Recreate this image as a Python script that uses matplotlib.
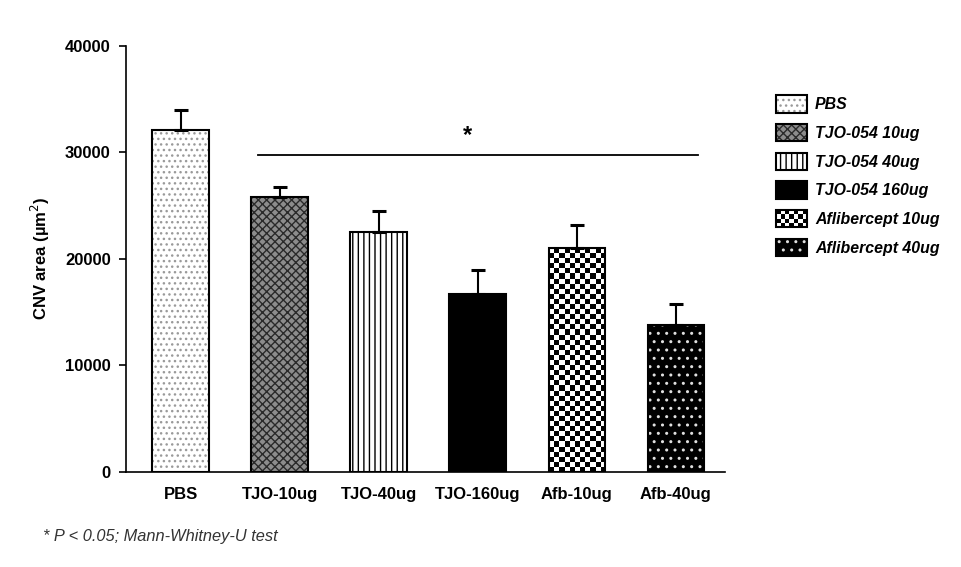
import numpy as np
import matplotlib
matplotlib.use("Agg")
import matplotlib.pyplot as plt
from matplotlib.patches import Patch, Rectangle
from matplotlib.legend_handler import HandlerBase, HandlerTuple

plt.rcParams["font.family"] = ["Liberation Sans", "DejaVu Sans"]

groups = ["PBS", "TJO-10ug", "TJO-40ug", "TJO-160ug", "Afb-10ug", "Afb-40ug"]
legend_names = ["PBS", "TJO-054 10ug", "TJO-054 40ug", "TJO-054 160ug",
                "Aflibercept 10ug", "Aflibercept 40ug"]
means = [32100, 25800, 22550, 16700, 21000, 13750]
sem = [1900, 950, 1950, 2250, 2200, 2050]
sig_span = (1, 5)  # TJO-10ug .. Afb-40ug
sig_level = 29770

# pattern per bar: (facecolor, hatch, hatchcolor)
styles = [
    ("white", "...", "#9a9a9a"),
    ("#8c8c8c", "xxxx", "#2a2a2a"),
    ("white", "|||", "black"),
    ("black", None, None),
    ("checker", None, None),
    ("black", "..", "#e0e0e0"),
]


class CheckerHandler(HandlerBase):
    def create_artists(self, legend, orig_handle, xdescent, ydescent, width, height,
                       fontsize, trans):
        arts = [Rectangle((-xdescent, -ydescent), width, height, facecolor="white",
                          edgecolor="none", transform=trans)]
        nc, nr = 7, 4
        cw, ch = width / nc, height / nr
        for i in range(nr):
            for j in range(nc):
                if (i + j) % 2:
                    arts.append(Rectangle((-xdescent + j * cw, -ydescent + i * ch), cw, ch,
                                          facecolor="black", edgecolor="none",
                                          transform=trans))
        arts.append(Rectangle((-xdescent, -ydescent), width, height, facecolor="none",
                              edgecolor="black", linewidth=1.5, transform=trans))
        return arts


class CheckerKey:
    pass


fig = plt.figure(figsize=(9.62, 5.67), dpi=100)
ax = fig.add_axes([0.131, 0.168, 0.623, 0.751])

x = np.arange(len(groups))
width = 0.57


def checker(ax, rect, n_cols=11):
    x0, y0 = rect.get_x(), rect.get_y()
    w, h = rect.get_width(), rect.get_height()
    bb = rect.get_window_extent()
    cell = bb.width / n_cols
    n_rows = max(1, int(round(bb.height / cell)))
    ii, jj = np.indices((n_rows, n_cols))
    img = ((ii + jj) % 2).astype(float)
    im = ax.imshow(img, cmap="gray", vmin=0, vmax=1, extent=(x0, x0 + w, y0, y0 + h),
                   aspect="auto", interpolation="nearest", origin="lower", zorder=2)
    im.set_clip_path(rect)


handles = []
outline = lambda: Patch(facecolor="none", edgecolor="black", linewidth=1.5)
for xi, m, (fc, hatch, hc) in zip(x, means, styles):
    if fc == "checker":
        ax.bar(xi, m, width, facecolor="white", edgecolor="black", linewidth=1.5, zorder=3)
        handles.append(CheckerKey())
        continue
    if hatch:
        ax.bar(xi, m, width, facecolor=fc, edgecolor=hc, hatch=hatch, linewidth=0, zorder=2)
        ax.bar(xi, m, width, facecolor="none", edgecolor="black", linewidth=1.5, zorder=3)
        handles.append((Patch(facecolor=fc, edgecolor=hc, hatch=hatch, linewidth=0), outline()))
    else:
        ax.bar(xi, m, width, facecolor=fc, edgecolor="black", linewidth=1.5, zorder=2)
        handles.append(Patch(facecolor=fc, edgecolor="black", linewidth=1.5))

ax.set_xlim(-0.55, 5.5)
ax.set_ylim(0, 40000)
fig.canvas.draw()

for p in [p for p in ax.patches if abs(p.get_x() + p.get_width() / 2 - x[4]) < 1e-6]:
    checker(ax, p)
    p.set_facecolor("none")

ax.errorbar(x, means, yerr=[np.zeros(len(sem)), sem], fmt="none", ecolor="black",
            elinewidth=1.5, capsize=5, capthick=2.2, zorder=4)

ax.plot([x[sig_span[0]] - 0.22, x[sig_span[1]] + 0.22], [sig_level, sig_level],
        color="black", lw=1.3)
ax.text((x[sig_span[0]] + x[sig_span[1]]) / 2 - 0.1, sig_level + 700, "*",
        ha="center", va="bottom", fontsize=17, fontweight="bold")

ax.spines["top"].set_visible(False)
ax.spines["right"].set_visible(False)
ax.spines["left"].set_linewidth(1.2)
ax.spines["bottom"].set_linewidth(1.2)
ax.set_xticks(x)
ax.set_xticklabels(groups, fontsize=12, fontweight="bold")
ax.tick_params(axis="x", length=0, pad=11)
ax.set_yticks([0, 10000, 20000, 30000, 40000])
ax.tick_params(axis="y", labelsize=12, direction="out", length=5, width=1.2, pad=6)
for lab in ax.get_yticklabels():
    lab.set_fontweight("bold")
ax.set_ylabel("CNV area (µm$^2$)", fontsize=12, fontweight="bold", labelpad=9)

fig.legend(handles, legend_names, loc="upper left", bbox_to_anchor=(0.792, 0.857),
           frameon=False, handlelength=1.95, handleheight=1.3, labelspacing=0.72,
           handletextpad=0.5,
           handler_map={tuple: HandlerTuple(ndivide=1), CheckerKey: CheckerHandler()},
           prop={"size": 11.4, "style": "italic", "weight": "bold"})

fig.text(0.045, 0.045, "* P < 0.05; Mann-Whitney-U test", fontsize=11.8,
         style="italic", color="#333333")

fig.savefig("out.png", dpi=100)
